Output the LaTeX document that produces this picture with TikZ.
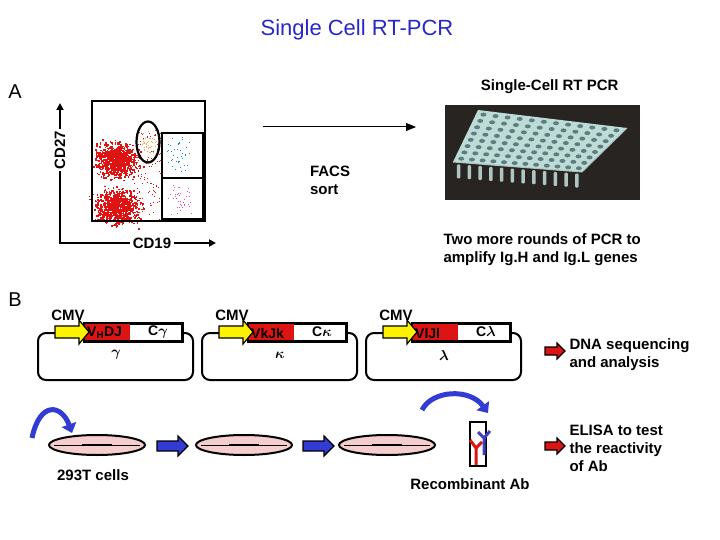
\documentclass[tikz,border=0pt]{standalone}
\usepackage{bm}
\usepackage{fontspec}
\setmainfont{Liberation Sans}
\usetikzlibrary{arrows.meta,positioning,shapes.geometric,calc}
\definecolor{titleblue}{RGB}{40,40,200}
\definecolor{dotred}{RGB}{220,20,20}
\definecolor{arrowblue}{RGB}{50,60,210}
\definecolor{dishpink}{RGB}{245,205,205}
\definecolor{platebg}{RGB}{40,36,34}
\definecolor{plategreen}{RGB}{190,220,215}
\definecolor{wellgray}{RGB}{95,125,125}

% block arrow: x, y (tail centre), length, shaft half width, head half width, head length, fill
\newcommand{\blockarrow}[7]{%
  \filldraw[fill=#7, draw=black, line width=1.2pt, line join=miter]
    (#1,#2-#4) -- (#1+#3-#6,#2-#4) -- (#1+#3-#6,#2-#5) -- (#1+#3,#2)
    -- (#1+#3-#6,#2+#5) -- (#1+#3-#6,#2+#4) -- (#1,#2+#4) -- cycle;}

\begin{document}
\begin{tikzpicture}[
    x=1pt, y=-1pt,
    lbl/.style={font=\fontsize{15}{18}\selectfont\bfseries, align=left},
    gene/.style={font=\fontsize{14}{16}\selectfont\bfseries},
    plasmid/.style={draw, line width=2pt, rounded corners=8pt},
    insert/.style={draw, line width=2pt, fill=white, minimum height=17pt, inner sep=0pt},
    dish/.style={ellipse, draw, line width=2pt, minimum width=96pt, minimum height=20pt, fill=dishpink},
    axis/.style={-{Triangle[length=7pt,width=7pt]}, line width=2.5pt}
]
\useasboundingbox (0,0) rectangle (720,540);

% === TITLE ===
\node[font=\fontsize{22}{26}\selectfont, text=titleblue] (title) at (357,30) {Single Cell RT-PCR};
\node[font=\fontsize{20}{24}\selectfont] (pa) at (15,92) {A};
\node[font=\fontsize{20}{24}\selectfont] (pb) at (15,300) {B};

% === FACS PLOT ===
\pgfmathsetseed{7}
\foreach \i in {1,...,1800} {
  \pgfmathsetmacro{\px}{116+10*(rand+rand+rand)}
  \pgfmathsetmacro{\py}{(mod(\i,2)==0 ? 160 : 206)+8*(rand+rand+rand)}
  \fill[dotred] (\px,\py) rectangle ++(1.6,1.6);
}
\foreach \i in {1,...,120} {
  \pgfmathsetmacro{\px}{132+30*rnd}
  \pgfmathsetmacro{\py}{130+90*rnd}
  \fill[dotred] (\px,\py) rectangle ++(1,1);
}
\foreach \i in {1,...,40} {
  \fill[orange!70] ({148+5*(rand+rand)},{142+7*(rand+rand)}) rectangle ++(1,1);
  \fill[cyan!70!blue] ({176+7*(rand+rand)},{155+10*(rand+rand)}) rectangle ++(1,1);
  \fill[magenta!70] ({180+7*(rand+rand)},{200+8*(rand+rand)}) rectangle ++(1,1);
}
\draw[line width=2pt] (92,101) rectangle (205,221);
\draw[line width=2pt] (162,133) rectangle (203,219);
\draw[line width=2pt] (162,178) -- (203,178);
\node[ellipse, draw, line width=2.2pt, minimum width=23pt, minimum height=41pt, inner sep=0pt] (gate) at (148,142) {};

\coordinate (origin) at (60,243);
\coordinate (ytop) at (60,103);
\coordinate (xend) at (216,243);
\node[lbl, rotate=90, fill=white, inner sep=2pt] (cd27) at (60,150) {CD27};
\node[lbl, fill=white, inner sep=3pt] (cd19) at (152,243) {CD19};
\draw[line width=2.5pt] (cd27.west) -- (origin) -- (cd19.west);
\draw[axis] (cd27.east) -- (ytop);
\draw[axis] (cd19.east) -- (xend);

% === SORT ARROW AND PLATE ===
\coordinate (sortstart) at (263,127);
\coordinate (sortend) at (416,127);
\draw[-{Triangle[length=10pt,width=8pt]}, line width=1pt] (sortstart) -- (sortend);
\node[lbl] (facs) at (330,180) {FACS\\sort};
\node[lbl, anchor=east] (rtpcr) at (622,87) {Single-Cell RT PCR};

\fill[platebg] (445,105) rectangle (640,200);
\coordinate (fl) at (453,162);
\coordinate (fr) at (582,172);
\coordinate (br) at (627,128);
\coordinate (bl) at (478,110);
\foreach \t in {0,...,11} {
  \fill[plategreen!75!gray, rounded corners=1pt] ($(fl)!{(\t+0.5)/12}!(fr) + (-1.5,2)$) rectangle ++(3.5,14);
}
\fill[plategreen] (fl) -- (fr) -- (br) -- (bl) -- cycle;
\draw[plategreen!70!gray, line width=1pt] (fl) -- (fr) -- (br);
\foreach \r in {0,...,7} {
  \foreach \c in {0,...,11} {
    \pgfmathsetmacro{\fr}{(\r+0.6)/8.2}
    \pgfmathsetmacro{\fc}{(\c+0.6)/12.2}
    \fill[wellgray] ($($(fl)!\fr!(bl)$)!\fc!($(fr)!\fr!(br)$)$) ellipse (3 and 2);
  }
}
\node[lbl, anchor=north west] (rounds) at (440,230) {Two more rounds of PCR to\\amplify Ig.H and Ig.L genes};

% === PLASMIDS ===
\foreach \dx/\vname/\cname/\lname [count=\k] in
    {0/{V\textsubscript{H}DJ}/{C$\bm{\gamma}$}/{$\bm{\gamma}$},
     164/VkJk/{C$\bm{\kappa}$}/{$\bm{\kappa}$},
     328/VlJl/{C$\bm{\lambda}$}/{$\bm{\lambda}$}} {
  \draw[plasmid] (38+\dx,333) rectangle (193+\dx,380);
  \node[insert, minimum width=97pt] (ins\k) at (133.5+\dx,332) {};
  \fill[dotred] ([xshift=1pt,yshift=-1pt]ins\k.north west) rectangle (130+\dx,340);
  \draw[line width=2pt] (ins\k.north west) rectangle (ins\k.south east);
  \node[gene, anchor=west, inner sep=1pt] (v\k) at (86+\dx,333) {\vname};
  \node[gene] (c\k) at (158+\dx,332) {\cname};
  \node[gene] (l\k) at (116+\dx,355) {\lname};
  \blockarrow{55+\dx}{332}{34}{6}{12}{10}{yellow}
  \node[lbl] (cmv\k) at (68+\dx,315) {CMV};
}
\blockarrow{545}{351}{20}{4}{8}{8}{dotred}
\node[lbl, anchor=west] (seq) at (566,355) {DNA sequencing\\and analysis};

% === CELL CULTURE ===
\node[dish] (dish1) at (97,445) {};
\node[dish] (dish2) at (244,445) {};
\node[dish] (dish3) at (387,445) {};
\foreach \d in {1,2,3} {
  \draw[line width=1pt] ([xshift=6pt]dish\d.west) -- ([xshift=-6pt]dish\d.east);
  \draw[line width=1.5pt] ([xshift=-15pt]dish\d.center) -- ([xshift=15pt]dish\d.center);
}
\blockarrow{157}{446}{31}{5}{10}{10}{arrowblue}
\blockarrow{303}{446}{31}{5}{10}{10}{arrowblue}

\coordinate (c1s) at (32,438);
\coordinate (c1e) at (72,433);
\draw[arrowblue, line width=5pt, -{Triangle[length=9pt,width=15pt]}] (c1s) .. controls (40,400) and (62,405) .. (c1e);
\coordinate (c2s) at (422,410);
\coordinate (c2e) at (488,413);
\draw[arrowblue, line width=5pt, -{Triangle[length=9pt,width=15pt]}] (c2s) .. controls (432,390) and (470,388) .. (c2e);

% tube with antibodies
\node[cylinder, shape border rotate=90, draw, line width=2pt, minimum width=16pt, minimum height=44pt, aspect=0.4, inner sep=0pt] (tube) at (478,444) {};
\draw[dotred, line width=3pt] (476,465) -- (476,448) -- (470,440);
\draw[dotred, line width=3pt] (476,448) -- (482,442);
\draw[gray!50!blue, line width=3pt] (484,455) -- (484,438) -- (478,432);
\draw[gray!50!blue, line width=3pt] (484,438) -- (490,431);

\node[lbl] (cells) at (93,475) {293T cells};
\node[lbl] (recab) at (470,484) {Recombinant Ab};
\blockarrow{545}{446}{20}{4}{8}{8}{dotred}
\node[lbl, anchor=west] (elisa) at (566,448) {ELISA to test\\the reactivity\\of Ab};
\end{tikzpicture}
\end{document}
